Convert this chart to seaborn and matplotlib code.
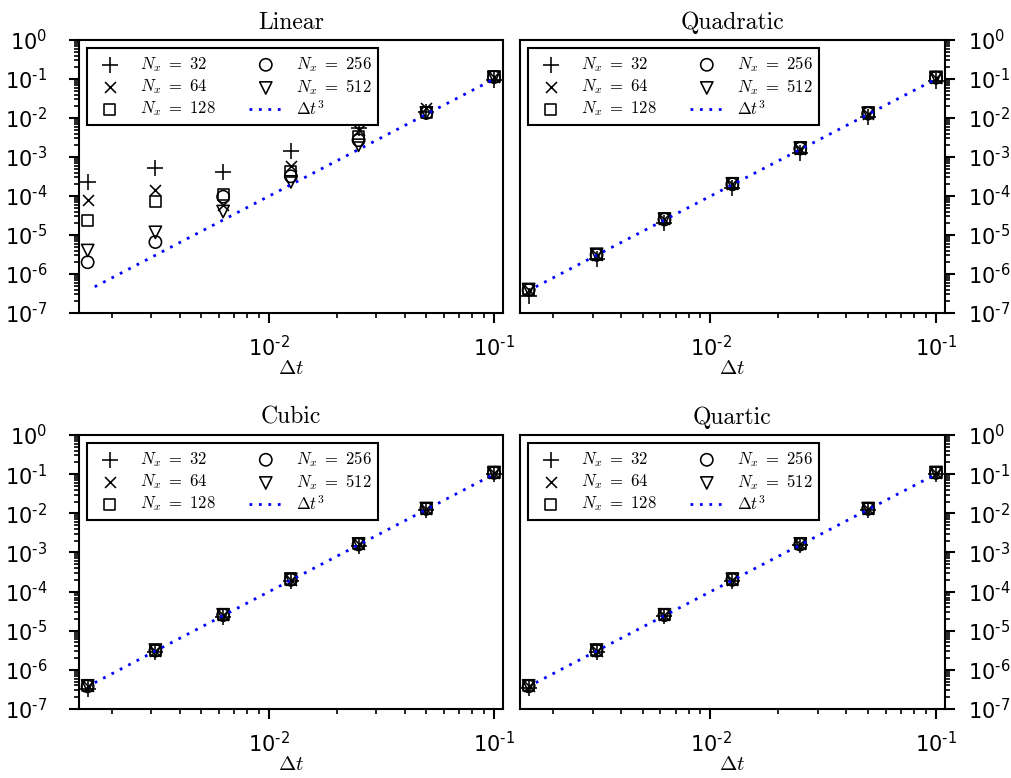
import math
import matplotlib
matplotlib.use("Agg")
import matplotlib.pyplot as plt
import seaborn as sns
from matplotlib.ticker import LogLocator, NullFormatter, FuncFormatter

# ---------------- data ----------------
dt = [0.0015625, 0.003125, 0.00625, 0.0125, 0.025, 0.05, 0.1]
nx_labels = [r"$N_x\ =\ 32$", r"$N_x\ =\ 64$", r"$N_x\ =\ 128$",
             r"$N_x\ =\ 256$", r"$N_x\ =\ 512$"]
ref_label = r"$\Delta t^3$"
titles = ["Linear", "Quadratic", "Cubic", "Quartic"]

# reference slope line (Delta t^3)
ref_dt = [0.00168, 0.1]
ref_err = [4.7e-7, 0.1]

lin_32 = [2.3e-4, 5.3e-4, 4.2e-4, 1.45e-3, 5.5e-3, 1.45e-2, 9.5e-2]
lin_64 = [7.9e-5, 1.4e-4, 6.0e-5, 6.0e-4, 4.9e-3, 1.8e-2, 0.115]
lin_128 = [2.3e-5, 7.1e-5, 1.1e-4, 4.2e-4, 3.3e-3, 1.4e-2, 0.115]
lin_256 = [2.0e-6, 6.6e-6, 9.6e-5, 3.2e-4, 2.7e-3, 1.35e-2, 0.112]
lin_512 = [4.0e-6, 1.17e-5, 4.0e-5, 2.3e-4, 2.0e-3, 1.35e-2, 0.11]

quad_32 = [2.7e-7, 2.4e-6, 2.0e-5, 1.6e-4, 1.3e-3, 1.05e-2, 8.8e-2]
quad_64 = [3.8e-7, 3.1e-6, 2.5e-5, 2.0e-4, 1.65e-3, 1.3e-2, 0.107]
quad_128 = [4.0e-7, 3.2e-6, 2.6e-5, 2.1e-4, 1.7e-3, 1.35e-2, 0.11]
quad_256 = [3.9e-7, 3.1e-6, 2.5e-5, 2.0e-4, 1.65e-3, 1.3e-2, 0.108]
quad_512 = [4.0e-7, 3.2e-6, 2.55e-5, 2.05e-4, 1.7e-3, 1.32e-2, 0.11]

cub_32 = [3.3e-7, 2.8e-6, 2.3e-5, 1.85e-4, 1.5e-3, 1.2e-2, 0.1]
cub_64 = [3.8e-7, 3.1e-6, 2.5e-5, 2.0e-4, 1.6e-3, 1.3e-2, 0.107]
cub_128 = [3.9e-7, 3.2e-6, 2.6e-5, 2.1e-4, 1.65e-3, 1.33e-2, 0.11]
cub_256 = [3.8e-7, 3.1e-6, 2.5e-5, 2.0e-4, 1.6e-3, 1.3e-2, 0.108]
cub_512 = [3.9e-7, 3.2e-6, 2.55e-5, 2.05e-4, 1.65e-3, 1.32e-2, 0.11]

quart_32 = [3.5e-7, 2.9e-6, 2.35e-5, 1.9e-4, 1.52e-3, 1.22e-2, 0.102]
quart_64 = [3.8e-7, 3.1e-6, 2.5e-5, 2.0e-4, 1.6e-3, 1.3e-2, 0.107]
quart_128 = [3.9e-7, 3.2e-6, 2.6e-5, 2.1e-4, 1.65e-3, 1.33e-2, 0.11]
quart_256 = [3.8e-7, 3.1e-6, 2.5e-5, 2.0e-4, 1.6e-3, 1.3e-2, 0.108]
quart_512 = [3.9e-7, 3.2e-6, 2.55e-5, 2.05e-4, 1.65e-3, 1.32e-2, 0.11]

panels = [
    [lin_32, lin_64, lin_128, lin_256, lin_512],
    [quad_32, quad_64, quad_128, quad_256, quad_512],
    [cub_32, cub_64, cub_128, cub_256, cub_512],
    [quart_32, quart_64, quart_128, quart_256, quart_512],
]

# marker styles: (marker, size s, open?)
styles = [("+", 135, False), ("x", 62, False), ("s", 64, True),
          ("o", 78, True), ("v", 78, True)]

# ---------------- style ----------------
sns.set_style("ticks")
plt.rcParams["font.family"] = ["DejaVu Sans"]
plt.rcParams["mathtext.fontset"] = "cm"
plt.rcParams["axes.linewidth"] = 1.5
for key in ["text.color", "axes.labelcolor", "xtick.color", "ytick.color",
            "axes.edgecolor"]:
    plt.rcParams[key] = "black"


def pow_fmt(v, pos):
    e = int(round(math.log10(v)))
    if e < 0:
        return r"$\mathdefault{10^{" + "\u2010" + str(-e) + "}}$"
    return r"$\mathdefault{10^{" + str(e) + "}}$"


fig = plt.figure(figsize=(10.11, 7.78), dpi=100)
fig.patch.set_facecolor("white")

W, H = 1011, 778
boxes = [(79, 503, 40, 313), (520, 945, 40, 313),
         (79, 503, 435, 709), (520, 945, 435, 709)]

for i, (l, r, t, b) in enumerate(boxes):
    ax = fig.add_axes([l / W, 1 - b / H, (r - l) / W, (b - t) / H])
    ax.set_xscale("log")
    ax.set_yscale("log")
    handles = []
    for vals, (mk, s, open_) in zip(panels[i], styles):
        if open_:
            sns.scatterplot(x=dt, y=vals, marker=mk, s=s, color="k",
                            facecolor="none", edgecolor="k", linewidth=1.15,
                            ax=ax, zorder=3)
        else:
            sns.scatterplot(x=dt, y=vals, marker=mk, s=s, color="k",
                            linewidth=1.15, ax=ax, zorder=3)
        handles.append(ax.collections[-1])
    sns.lineplot(x=ref_dt, y=ref_err, color="#0000ff", linewidth=2.0,
                 linestyle=(0, (1, 2.4)), ax=ax, zorder=4)
    handles.append(ax.lines[-1])

    ax.set_xlim(0.00143, 0.1096)
    ax.set_ylim(1e-7, 1.0)

    for axis in (ax.xaxis, ax.yaxis):
        axis.set_major_locator(LogLocator(base=10, numticks=20))
        axis.set_minor_locator(LogLocator(base=10, subs=range(2, 10), numticks=20))
        axis.set_minor_formatter(NullFormatter())
        axis.set_major_formatter(FuncFormatter(pow_fmt))

    if i % 2 == 1:
        ax.yaxis.tick_right()
        ax.yaxis.set_label_position("right")
        ypad = 9.5
    else:
        ax.yaxis.tick_left()
        ypad = 16
    ax.xaxis.tick_bottom()

    ax.tick_params(which="major", direction="out", length=7, width=1.5,
                   labelsize=15, color="k", labelcolor="k")
    ax.tick_params(axis="x", which="major", pad=9)
    ax.tick_params(axis="y", which="major", pad=ypad)
    ax.tick_params(which="minor", direction="out", length=3.5, width=1.2,
                   color="k")
    for sp in ax.spines.values():
        sp.set_visible(True)
        sp.set_linewidth(1.5)
        sp.set_color("k")

    ax.set_xlabel(r"$\Delta t$", fontsize=15, labelpad=-2)
    ax.set_title(titles[i], fontsize=17, pad=8, fontfamily="cmr10")

    leg = ax.legend(handles, nx_labels + [ref_label], ncol=2,
                    loc="upper left", fontsize=12, frameon=True,
                    fancybox=False, framealpha=1, edgecolor="k",
                    scatterpoints=1, handlelength=2.0, labelspacing=0.2,
                    borderpad=0.35)
    leg.get_frame().set_linewidth(1.5)

fig.savefig("out.png", dpi=100, facecolor="white")
